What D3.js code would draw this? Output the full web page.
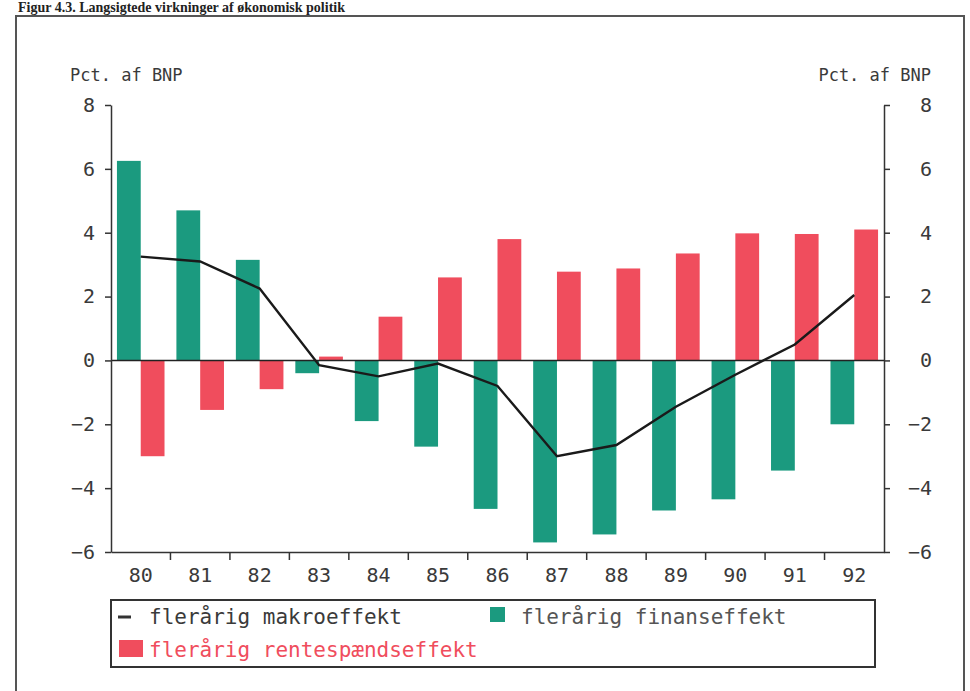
<!DOCTYPE html>
<html>
<head>
<meta charset="utf-8">
<script src="https://d3js.org/d3.v7.min.js"></script>
<style>
  body { margin: 0; background: #fff; }
  text { font-family: "DejaVu Sans Mono", monospace; }
</style>
</head>
<body>
<div id="my_dataviz"></div>
<script>
// data
var years = ["80","81","82","83","84","85","86","87","88","89","90","91","92"];
var finans = [6.25, 4.7, 3.15, -0.4, -1.9, -2.7, -4.65, -5.7, -5.45, -4.7, -4.35, -3.45, -2.0];
var rentespaend = [-3.0, -1.55, -0.9, 0.12, 1.37, 2.6, 3.8, 2.78, 2.88, 3.35, 3.98, 3.96, 4.1];
var makro = [3.25, 3.1, 2.25, -0.15, -0.5, -0.1, -0.8, -3.0, -2.65, -1.45, -0.45, 0.5, 2.05];
var yTicks = [-6, -4, -2, 0, 2, 4, 6, 8];
var seriesNames = ["finans", "rente"];

var green = "#1b9a7f", red = "#f04d5d";

var W = 970, H = 691;
var margin = {top: 105, right: 86, bottom: 139, left: 111},
width = W - margin.left - margin.right,
height = H - margin.top - margin.bottom;

var svg = d3.select("#my_dataviz")
.append("svg")
.attr("width", W)
.attr("height", H);

// scanned page: title and frame
svg.append("text")
.attr("x", 18).attr("y", 12)
.style("font-family", "'Liberation Serif', serif")
.style("font-weight", "bold")
.style("font-size", "14px")
.style("fill", "#222")
.text("Figur 4.3. Langsigtede virkninger af økonomisk politik");

svg.append("rect")
.attr("x", 16).attr("y", 16)
.attr("width", 948).attr("height", 700)
.style("fill", "none")
.style("stroke", "#555")
.style("stroke-width", 2);

var g = svg.append("g")
.attr("transform", "translate(" + margin.left + "," + margin.top + ")");

// scales
var x = d3.scaleBand()
.domain(years)
.range([0, width])
.padding(0);

var xSub = d3.scaleBand()
.domain(seriesNames)
.range([x.bandwidth() * 0.1, x.bandwidth() * 0.9])
.padding(0);

var y = d3.scaleLinear()
.domain([-6, 8])
.range([height, 0]);

// bars
g.selectAll(".bar-finans")
.data(finans)
.enter()
.append("rect")
  .attr("x", function(d, i) { return x(years[i]) + xSub("finans"); })
  .attr("y", function(d) { return y(Math.max(0, d)); })
  .attr("width", xSub.bandwidth())
  .attr("height", function(d) { return Math.abs(y(d) - y(0)); })
  .style("fill", green);

g.selectAll(".bar-rente")
.data(rentespaend)
.enter()
.append("rect")
  .attr("x", function(d, i) { return x(years[i]) + xSub("rente"); })
  .attr("y", function(d) { return y(Math.max(0, d)); })
  .attr("width", xSub.bandwidth())
  .attr("height", function(d) { return Math.abs(y(d) - y(0)); })
  .style("fill", red);

// zero line
g.append("line")
.attr("x1", 0).attr("x2", width)
.attr("y1", y(0)).attr("y2", y(0))
.style("stroke", "#222")
.style("stroke-width", 1.5);

// makro line
var line = d3.line()
.x(function(d, i) { return x(years[i]) + x.bandwidth() / 2; })
.y(function(d) { return y(d); });

g.append("path")
.datum(makro)
.attr("d", line)
.style("fill", "none")
.style("stroke", "#1a1a1a")
.style("stroke-width", 2.4);

// axes
var axisLeft = g.append("g")
.call(d3.axisLeft(y).tickValues(yTicks).tickSize(6).tickPadding(10).tickSizeOuter(0));

var axisRight = g.append("g")
.attr("transform", "translate(" + width + ",0)")
.call(d3.axisRight(y).tickValues(yTicks).tickSize(6).tickPadding(42).tickSizeOuter(0));
axisRight.selectAll("text").attr("text-anchor", "end");

var axisBottom = g.append("g")
.attr("transform", "translate(0," + height + ")")
.call(d3.axisBottom(x).tickSize(0).tickPadding(16).tickSizeOuter(0));

// boundary ticks between years
g.selectAll(".xtick")
.data(years.slice(1))
.enter()
.append("line")
  .attr("x1", function(d) { return x(d); })
  .attr("x2", function(d) { return x(d); })
  .attr("y1", height)
  .attr("y2", height + 8)
  .style("stroke", "#333")
  .style("stroke-width", 1.5);

[axisLeft, axisRight, axisBottom].forEach(function(a) {
  a.selectAll("path, line").style("stroke", "#333").style("stroke-width", 1.5);
  a.selectAll("text")
    .style("font-size", "20px")
    .style("fill", "#3a3a3a")
    .text(function(d) { return typeof d === "number" ? String(d).replace("-", "\u2212") : d; });
});

// axis titles
svg.append("text")
.attr("x", 70).attr("y", 81)
.style("font-size", "17px")
.style("fill", "#3a3a3a")
.text("Pct. af BNP");

svg.append("text")
.attr("x", 931).attr("y", 81)
.attr("text-anchor", "end")
.style("font-size", "17px")
.style("fill", "#3a3a3a")
.text("Pct. af BNP");

// legend
var leg = svg.append("g");
leg.append("rect")
.attr("x", 111).attr("y", 600)
.attr("width", 764).attr("height", 67)
.style("fill", "none")
.style("stroke", "#333")
.style("stroke-width", 2);

leg.append("line")
.attr("x1", 118).attr("x2", 131)
.attr("y1", 617).attr("y2", 617)
.style("stroke", "#333")
.style("stroke-width", 3);
leg.append("text")
.attr("x", 149).attr("y", 624)
.style("font-size", "21px")
.style("fill", "#3a3a3a")
.text("flerårig makroeffekt");

leg.append("rect")
.attr("x", 490).attr("y", 607)
.attr("width", 15).attr("height", 15)
.style("fill", green);
leg.append("text")
.attr("x", 521).attr("y", 624)
.style("font-size", "21px")
.style("fill", "#555")
.text("flerårig finanseffekt");

leg.append("rect")
.attr("x", 119).attr("y", 640)
.attr("width", 24).attr("height", 17)
.style("fill", red);
leg.append("text")
.attr("x", 149).attr("y", 657)
.style("font-size", "21px")
.style("fill", red)
.text("flerårig rentespændseffekt");
</script>
</body>
</html>
